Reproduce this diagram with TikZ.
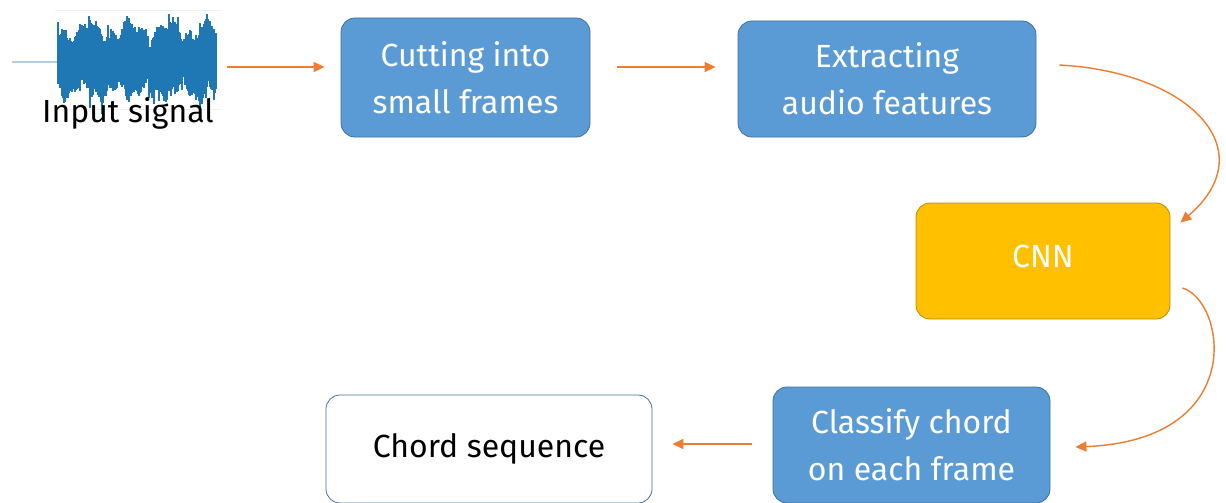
\documentclass[tikz,border=0pt]{standalone}
\usepackage{fontspec}
\setmainfont{Fira Sans}
\usetikzlibrary{arrows.meta,calc}
\definecolor{boxblue}{HTML}{5B9BD5}
\definecolor{boxblueline}{HTML}{41719C}
\definecolor{cnnyellow}{HTML}{FFC000}
\definecolor{cnnline}{HTML}{BC8C00}
\definecolor{arrorange}{HTML}{ED7D31}
\definecolor{wavecol}{HTML}{1F77B4}
\begin{document}
\begin{tikzpicture}[x=1pt,y=-1pt,
  stepbox/.style={rectangle,rounded corners=14pt,fill=boxblue,draw=boxblueline,line width=0.8pt,
    text=white,align=center,font=\fontsize{32}{47}\selectfont,inner sep=0pt},
  cnnbox/.style={stepbox,fill=cnnyellow,draw=cnnline},
  outbox/.style={stepbox,fill=white,text=black},
  arr/.style={draw=arrorange,line width=1.4pt,-{Triangle[length=11pt,width=10pt]}},
  lbl/.style={font=\fontsize{32}{36}\selectfont,text=black,inner sep=0pt}]
\useasboundingbox (0,0) rectangle (1226,503);
% waveform
\draw[wavecol!35,line width=1.5pt] (12,62) -- (58,62);
\draw[gray!12,line width=0.8pt] (55,10) -- (222,10);
\draw[gray!12,line width=0.8pt] (55,109) -- (222,109);
\pgfmathsetseed{11}
\foreach \i in {58,...,216}{
  \pgfmathsetmacro\ta{26+7*sin(\i*9)+5*sin(\i*23+40)+rnd*9+(rnd>0.93)*10}
  \pgfmathsetmacro\tb{24+6*sin(\i*11+70)+5*sin(\i*29)+rnd*9+(rnd>0.93)*10}
  \draw[wavecol,line width=1.3pt] (\i,62-\ta) -- (\i,62+\tb);
}
\node[minimum width=160pt,minimum height=100pt,inner sep=0pt] (wave) at (137,60) {};
\node[lbl] (inlbl) at (128,113) {Input signal};
% boxes
\node[stepbox,minimum width=249pt,minimum height=119pt] (cut) at (465.5,77.5) {Cutting into\\small frames};
\node[stepbox,minimum width=298pt,minimum height=116pt] (ext) at (887,79) {Extracting\\audio features};
\node[cnnbox,minimum width=254pt,minimum height=116pt] (cnn) at (1043,261) {\raisebox{10pt}{CNN}};
\node[stepbox,minimum width=277pt,minimum height=116pt] (cls) at (911.5,445) {Classify chord\\on each frame};
\node[outbox,minimum width=326pt,minimum height=108pt] (chord) at (489,449) {\raisebox{6pt}{Chord sequence}};
% connectors
\draw[arr] ($(wave.east)+(10,7)$) -- ($(cut.west)+(-16,-10.5)$);
\draw[arr] ($(cut.east)+(27,-10.5)$) -- ($(ext.west)+(-22,-12)$);
\draw[arr] ($(ext.east)+(23,-14)$) .. controls (1190,72) and (1265,150) .. ($(cnn.north east)+(10,20)$);
\draw[arr] ($(cnn.east)+(12,27)$) .. controls (1225,300) and (1250,440) .. ($(cls.east)+(25,2)$);
\draw[arr] ($(cls.west)+(-21,-1)$) -- ($(chord.east)+(20,-5)$);
\end{tikzpicture}
\end{document}
